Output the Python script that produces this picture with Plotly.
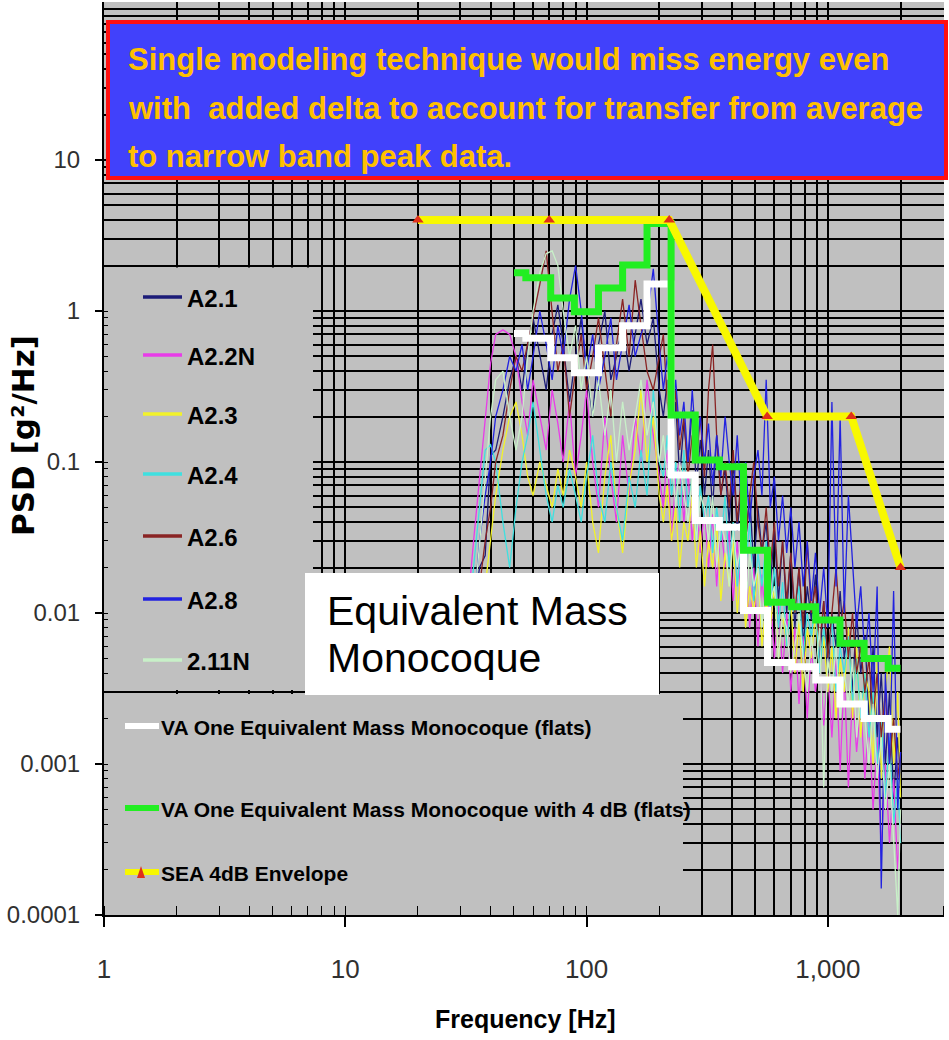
import math
import plotly.graph_objects as go

# ---------------- data ----------------
freq = [30, 32, 34, 36, 38, 40, 42, 45, 48, 51,
        54, 57, 60, 64, 68, 72, 76, 80, 85, 90,
        95, 100, 106, 112, 119, 126, 133, 141, 150, 159,
        168, 178, 189, 200,
        208, 216, 225, 234, 243, 253, 263, 274, 285, 296,
        308, 320, 333, 346, 360, 375, 390, 405, 421, 438,
        456, 474, 493, 513, 533, 555, 577, 600, 624, 649,
        675, 702, 730, 759, 790, 821, 854, 888, 924, 961,
        999, 1039, 1081, 1124, 1169, 1216, 1265, 1315, 1368, 1423,
        1480, 1539, 1600, 1664, 1731, 1800, 1872, 1947, 2000]

psd_a2_1 = [0.004, 0.006, 0.01, 0.02, 0.024, 0.11, 0.12, 0.2, 0.35, 0.5,
            0.3, 0.6, 0.9, 0.5, 0.3, 0.7, 1.1, 0.6, 0.25, 0.5,
            0.9, 0.4, 0.2, 0.6, 1.0, 0.35, 0.5, 0.8, 0.4, 0.7,
            1.2, 0.6, 0.9, 0.3,
            0.2, 0.35, 0.12, 0.25, 0.08, 0.18, 0.1, 0.22, 0.07, 0.14,
            0.06, 0.12, 0.05, 0.15, 0.06, 0.09, 0.04, 0.1, 0.035, 0.07,
            0.03, 0.06, 0.02, 0.05, 0.025, 0.04, 0.015, 0.035, 0.012, 0.03,
            0.01, 0.025, 0.008, 0.02, 0.006, 0.015, 0.009, 0.018, 0.005, 0.012,
            0.004, 0.01, 0.006, 0.014, 0.005, 0.008, 0.003, 0.01, 0.004, 0.007,
            0.002, 0.006, 0.0015, 0.004, 0.001, 0.003, 0.0006, 0.0015, 0.0008]

psd_a2_2n = [0.004, 0.01, 0.03, 0.08, 0.2, 0.45, 0.7, 0.75, 0.7, 0.5,
             0.25, 0.15, 0.35, 0.2, 0.12, 0.3, 0.18, 0.1, 0.25, 0.08,
             0.15, 0.3, 0.1, 0.05, 0.2, 0.08, 0.04, 0.15, 0.06, 0.2,
             0.1, 0.35, 0.15, 0.08,
             0.05, 0.12, 0.03, 0.08, 0.1, 0.04, 0.09, 0.03, 0.06, 0.025,
             0.05, 0.02, 0.045, 0.015, 0.04, 0.02, 0.035, 0.012, 0.03, 0.01,
             0.025, 0.008, 0.02, 0.006, 0.018, 0.007, 0.014, 0.005, 0.012, 0.004,
             0.01, 0.003, 0.008, 0.0025, 0.007, 0.002, 0.006, 0.003, 0.005, 0.0018,
             0.004, 0.0015, 0.005, 0.0009, 0.004, 0.0007, 0.003, 0.0012, 0.0025, 0.0008,
             0.002, 0.0005, 0.0015, 0.00026, 0.001, 0.0003, 0.0008, 0.0002, 0.0004]

psd_a2_3 = [0.004, 0.005, 0.006, 0.008, 0.015, 0.03, 0.06, 0.12, 0.2, 0.25,
            0.15, 0.08, 0.06, 0.1, 0.07, 0.05, 0.09, 0.06, 0.12, 0.08,
            0.05, 0.1, 0.04, 0.025, 0.08, 0.15, 0.05, 0.025, 0.07, 0.12,
            0.3, 0.1, 0.2, 0.06,
            0.04, 0.07, 0.03, 0.05, 0.02, 0.04, 0.03, 0.06, 0.02, 0.035,
            0.015, 0.03, 0.02, 0.04, 0.012, 0.025, 0.015, 0.03, 0.01, 0.02,
            0.008, 0.015, 0.01, 0.02, 0.006, 0.012, 0.008, 0.015, 0.005, 0.01,
            0.006, 0.012, 0.004, 0.009, 0.003, 0.008, 0.005, 0.01, 0.004, 0.007,
            0.003, 0.006, 0.002, 0.005, 0.003, 0.008, 0.002, 0.006, 0.0015, 0.004,
            0.003, 0.001, 0.005, 0.0008, 0.003, 0.006, 0.001, 0.003, 0.0006]

psd_a2_4 = [0.004, 0.008, 0.02, 0.05, 0.12, 0.13, 0.1, 0.04, 0.02, 0.05,
            0.1, 0.15, 0.25, 0.12, 0.06, 0.04, 0.07, 0.05, 0.09, 0.06,
            0.04, 0.08, 0.15, 0.06, 0.04, 0.1, 0.05, 0.03, 0.08, 0.05,
            0.12, 0.06, 0.3, 0.1,
            0.08, 0.15, 0.06, 0.1, 0.04, 0.12, 0.05, 0.08, 0.03, 0.07,
            0.04, 0.06, 0.025, 0.05, 0.03, 0.06, 0.02, 0.04, 0.015, 0.03,
            0.02, 0.04, 0.012, 0.025, 0.015, 0.03, 0.01, 0.02, 0.008, 0.016,
            0.006, 0.012, 0.01, 0.015, 0.005, 0.01, 0.007, 0.012, 0.004, 0.008,
            0.005, 0.009, 0.003, 0.006, 0.004, 0.007, 0.0025, 0.005, 0.002, 0.004,
            0.0015, 0.003, 0.001, 0.002, 0.0006, 0.0015, 0.0004, 0.0008, 0.0003]

psd_a2_6 = [0.004, 0.005, 0.008, 0.015, 0.03, 0.05, 0.1, 0.15, 0.3, 0.5,
            0.4, 0.6, 0.9, 1.5, 2.5, 1.0, 0.4, 0.6, 0.2, 0.4,
            0.7, 0.3, 0.5, 0.9, 0.4, 0.2, 0.6, 1.2, 0.5, 1.6,
            0.8, 0.4, 0.3, 0.5,
            0.7, 0.25, 0.15, 0.3, 0.12, 0.2, 0.08, 0.15, 0.1, 0.2,
            0.08, 0.3, 0.6, 0.15, 0.06, 0.1, 0.05, 0.12, 0.04, 0.08,
            0.03, 0.06, 0.1, 0.04, 0.025, 0.05, 0.02, 0.04, 0.015, 0.03,
            0.012, 0.025, 0.01, 0.02, 0.008, 0.03, 0.01, 0.015, 0.006, 0.012,
            0.005, 0.01, 0.02, 0.008, 0.012, 0.005, 0.01, 0.004, 0.006, 0.003,
            0.005, 0.002, 0.004, 0.0015, 0.003, 0.001, 0.002, 0.0008, 0.0012]

psd_a2_8 = [0.004, 0.005, 0.01, 0.03, 0.06, 0.1, 0.2, 0.3, 0.5, 0.4,
            0.6, 0.3, 0.5, 1.0, 0.6, 0.35, 0.8, 0.5, 1.2, 2.0,
            1.0, 0.4, 0.7, 0.3, 0.5, 0.9, 0.35, 0.6, 1.1, 0.5,
            0.7, 0.9, 1.9, 0.6,
            0.3, 0.5, 0.2, 0.35, 0.15, 0.25, 0.1, 0.3, 0.12, 0.2,
            0.1, 0.18, 0.07, 0.15, 0.08, 0.2, 0.1, 0.06, 0.15, 0.05,
            0.1, 0.04, 0.08, 0.12, 0.06, 0.35, 0.05, 0.08, 0.03, 0.06,
            0.025, 0.05, 0.02, 0.04, 0.015, 0.03, 0.012, 0.025, 0.01, 0.02,
            0.008, 0.25, 0.015, 0.2, 0.01, 0.06, 0.02, 0.008, 0.015, 0.005,
            0.01, 0.003, 0.015, 0.00015, 0.004, 0.001, 0.014, 0.0005, 0.0012]

psd_2_11n = [0.004, 0.006, 0.01, 0.03, 0.08, 0.2, 0.35, 0.4, 0.2, 0.12,
             0.2, 0.5, 1.0, 1.8, 2.4, 2.5, 2.0, 1.0, 0.5, 0.8,
             0.3, 0.5, 0.2, 0.35, 0.15, 0.3, 0.1, 0.25, 0.12, 0.2,
             0.35, 0.15, 0.25, 0.1,
             0.15, 0.08, 0.12, 0.05, 0.1, 0.06, 0.04, 0.08, 0.03, 0.06,
             0.05, 0.03, 0.06, 0.02, 0.04, 0.03, 0.015, 0.035, 0.02, 0.03,
             0.01, 0.025, 0.015, 0.02, 0.008, 0.018, 0.012, 0.015, 0.005, 0.01,
             0.008, 0.004, 0.006, 0.01, 0.005, 0.003, 0.007, 0.004, 0.008, 0.0007,
             0.005, 0.003, 0.006, 0.002, 0.004, 0.0025, 0.005, 0.0015, 0.003, 0.002,
             0.001, 0.0025, 0.0008, 0.0015, 0.0005, 0.001, 0.0003, 0.0001, 0.0005]

series_names = ["A2.1", "A2.2N", "A2.3", "A2.4", "A2.6", "A2.8", "2.11N"]
series_colors = ["#1c1c78", "#e83ce8", "#f2f22a", "#3fe0e0", "#8a2424", "#2222e0", "#c8f0c8"]
series_values = [psd_a2_1, psd_a2_2n, psd_a2_3, psd_a2_4, psd_a2_6, psd_a2_8, psd_2_11n]

# third-octave flats (band lower edges, last value = upper edge of final band)
band_edges_hz = [50, 56, 71, 89, 112, 141, 178, 224, 282, 355, 447, 562, 708, 891, 1122, 1413, 1778, 2000]
va_one_flats = [0.71, 0.66, 0.49, 0.39, 0.57, 0.80, 1.51, 0.082, 0.041, 0.037,
                0.0104, 0.0047, 0.0044, 0.0036, 0.0025, 0.002, 0.0017]
va_one_4db_flats = [1.79, 1.66, 1.22, 0.99, 1.42, 2.02, 3.8, 0.205, 0.103, 0.093,
                    0.026, 0.0118, 0.011, 0.009, 0.0063, 0.005, 0.0043]

env_freq = [20, 70, 220, 560, 1250, 2000]
env_psd = [4, 4, 4, 0.2, 0.2, 0.02]

x_tickvals = [1, 10, 100, 1000]
x_ticktext = ["1", "10", "100", "1,000"]
y_tickvals = [0.0001, 0.001, 0.01, 0.1, 1, 10]
y_ticktext = ["0.0001", "0.001", "0.01", "0.1", "1", "10"]

title_lines = ["Single modeling technique would miss energy even",
               "with&nbsp; added delta to account for transfer from average",
               "to narrow band peak data."]

# ---------------- geometry ----------------
W, H = 949, 1040
L, R, T, B = 104, 944, 2, 915
XR = [0, (R - L) / 241.3]
YR = [-4, -4 + (B - T) / 151.0]


def px(x):
    return (x - L) / (R - L)


def py(y):
    return (B - y) / (B - T)


def ypix(v):
    return T + (YR[1] - math.log10(v)) * (B - T) / (YR[1] - YR[0])


def xdat(p):
    return 10 ** (XR[0] + (p - L) / (R - L) * (XR[1] - XR[0]))


def ydat(p):
    return 10 ** (YR[1] - (p - T) / (B - T) * (YR[1] - YR[0]))


SANS = "Liberation Sans, Arial, sans-serif"
GRAY = "#c0c0c0"
GREEN = "#22ee22"

fig = go.Figure()
for name, col, vals in zip(series_names, series_colors, series_values):
    fig.add_trace(go.Scatter(x=freq, y=vals, mode="lines", name=name,
                             line=dict(color=col, width=1.3), showlegend=False))

fig.add_trace(go.Scatter(x=band_edges_hz, y=va_one_flats + [va_one_flats[-1]], mode="lines",
                         line=dict(color="white", width=7, shape="hv"), showlegend=False,
                         name="VA One Equivalent Mass Monocoque (flats)"))
fig.add_trace(go.Scatter(x=band_edges_hz, y=va_one_4db_flats + [va_one_4db_flats[-1]], mode="lines",
                         line=dict(color=GREEN, width=7, shape="hv"), showlegend=False,
                         name="VA One Equivalent Mass Monocoque with 4 dB (flats)"))
fig.add_trace(go.Scatter(x=env_freq, y=env_psd, mode="lines+markers", name="SEA 4dB Envelope",
                         line=dict(color="#f8f800", width=8),
                         marker=dict(symbol="triangle-up", color="#e0301a", size=10),
                         showlegend=False))

shapes = []
# legend boxes hiding the grid (between grid and traces)
g2 = ypix(2)
g3m = ypix(0.003)
shapes.append(dict(type="rect", xref="x", yref="y", x0=xdat(L - 2), x1=xdat(313),
                   y0=ydat(g3m - 2), y1=ydat(g2 + 2), fillcolor=GRAY, line=dict(width=0), layer="between"))
shapes.append(dict(type="rect", xref="x", yref="y", x0=xdat(L - 2), x1=xdat(683),
                   y0=ydat(B + 2), y1=ydat(g3m + 2), fillcolor=GRAY, line=dict(width=0), layer="between"))
# white label box
shapes.append(dict(type="rect", xref="paper", yref="paper", x0=px(305), x1=px(659),
                   y0=py(695), y1=py(573), fillcolor="white", line=dict(width=0), layer="above"))
# title box
shapes.append(dict(type="rect", xref="paper", yref="paper", x0=px(108), x1=px(946),
                   y0=py(178), y1=py(22), fillcolor="#4141fb", line=dict(color="#ff1010", width=4),
                   layer="above"))

annotations = []
for i, line in enumerate(title_lines):
    annotations.append(dict(xref="paper", yref="paper", x=px(126), y=py([60, 108, 156][i]),
                            xanchor="left", yanchor="middle", showarrow=False,
                            text="<b>" + line + "</b>",
                            font=dict(family=SANS, size=31, color="#ffc000")))

# legend 1
leg1_y = [297, 355, 414, 474, 536, 599, 660]
for name, col, yy in zip(series_names, series_colors, leg1_y):
    shapes.append(dict(type="line", xref="paper", yref="paper", x0=px(143), x1=px(182),
                       y0=py(yy), y1=py(yy), line=dict(color=col, width=3.5), layer="above"))
    annotations.append(dict(xref="paper", yref="paper", x=px(185), y=py(yy + 1),
                            xanchor="left", yanchor="middle", showarrow=False,
                            text="<b>" + name + "</b>",
                            font=dict(family=SANS, size=24, color="black")))

# legend 2
leg2 = [("VA One Equivalent Mass Monocoque (flats)", "white", 726),
        ("VA One Equivalent Mass Monocoque with 4 dB (flats)", GREEN, 808),
        ("SEA 4dB Envelope", "#f8f800", 872)]
for text, col, yy in leg2:
    shapes.append(dict(type="line", xref="paper", yref="paper", x0=px(125), x1=px(159),
                       y0=py(yy), y1=py(yy), line=dict(color=col, width=6), layer="above"))
    annotations.append(dict(xref="paper", yref="paper", x=px(159), y=py(yy + 1),
                            xanchor="left", yanchor="middle", showarrow=False,
                            text="<b>" + text + "</b>",
                            font=dict(family=SANS, size=21, color="black")))
tri_y = 872
shapes.append(dict(type="path", xref="paper", yref="paper",
                   path="M {} {} L {} {} L {} {} Z".format(px(137), py(tri_y + 6), px(145), py(tri_y + 6),
                                                         px(141), py(tri_y - 6)),
                   fillcolor="#e0301a", line=dict(width=0), layer="above"))

# label in white box
for txt, yy in [("Equivalent Mass", 611), ("Monocoque", 658)]:
    annotations.append(dict(xref="paper", yref="paper", x=px(325), y=py(yy),
                            xanchor="left", yanchor="middle", showarrow=False,
                            text=txt, font=dict(family=SANS, size=41, color="black")))

# axis titles
annotations.append(dict(xref="paper", yref="paper", x=px(525), y=py(1019),
                        xanchor="center", yanchor="middle", showarrow=False,
                        text="<b>Frequency [Hz]</b>",
                        font=dict(family=SANS, size=25, color="black")))
annotations.append(dict(xref="paper", yref="paper", x=px(23), y=py(436),
                        xanchor="center", yanchor="middle", showarrow=False, textangle=-90,
                        text="<b>PSD [g²/Hz]</b>",
                        font=dict(family="DejaVu Sans, sans-serif", size=31, color="black")))

fig.update_layout(
    width=W, height=H,
    margin=dict(l=L, r=W - R, t=T, b=H - B, pad=0),
    paper_bgcolor="white", plot_bgcolor=GRAY,
    showlegend=False,
    shapes=shapes, annotations=annotations,
    xaxis=dict(type="log", range=XR, tickvals=x_tickvals, ticktext=x_ticktext, automargin=False,
               ticks="outside", ticklen=10, tickwidth=1.5, tickcolor="black",
               showline=True, linecolor="black", linewidth=2,
               showgrid=True, gridcolor="black", gridwidth=2, zeroline=False,
               minor=dict(dtick="D1", showgrid=True, gridcolor="black", gridwidth=1.5,
                          ticks="inside", ticklen=9, tickcolor="black", tickwidth=1),
               tickfont=dict(family=SANS, size=26, color="#303030"),
               ticklabelstandoff=20),
    yaxis=dict(type="log", range=YR, tickvals=y_tickvals, ticktext=y_ticktext, automargin=False,
               ticks="outside", ticklen=7, tickwidth=1.5, tickcolor="black",
               showline=True, linecolor="black", linewidth=2,
               showgrid=True, gridcolor="black", gridwidth=2, zeroline=False,
               minor=dict(dtick="D1", showgrid=True, gridcolor="black", gridwidth=1.5,
                          ticks="inside", ticklen=4, tickcolor="black", tickwidth=1),
               tickfont=dict(family=SANS, size=24, color="#303030"),
               ticklabelstandoff=10),
)

fig.write_html("out.html", config={"displayModeBar": False},
               post_script="document.body.style.margin='0px';")
